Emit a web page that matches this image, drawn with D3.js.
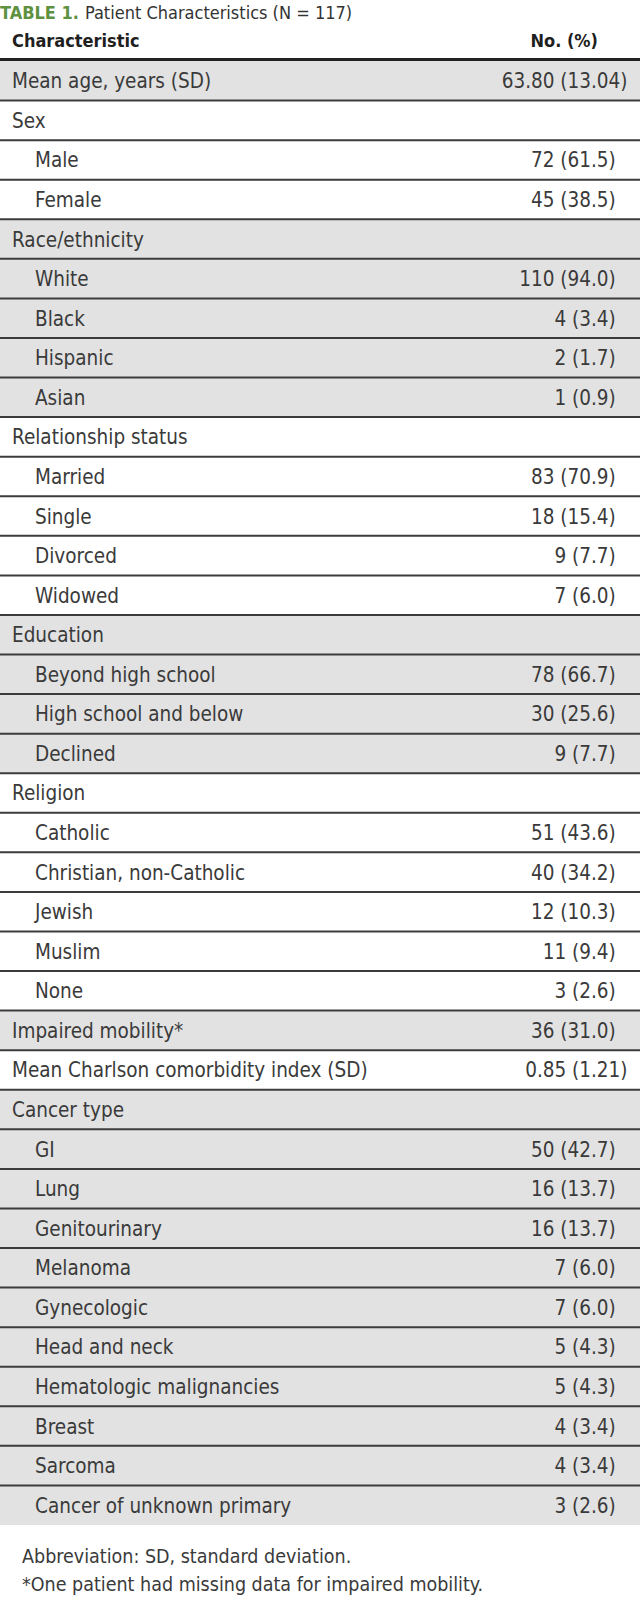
<!DOCTYPE html>
<html>
<head>
<meta charset="utf-8">
<script src="https://cdn.jsdelivr.net/npm/d3@7"></script>
<style>
  body { margin: 0; background: #fff; }
  svg text { font-family: "Liberation Sans Narrow", "DejaVu Sans Condensed", "Roboto Condensed", sans-serif; }
</style>
</head>
<body>
<svg id="chart" width="640" height="1600"></svg>
<script>
  // table rows: label, value, indent level (0 = group row, 1 = sub row)
  const labels = [
    "Mean age, years (SD)",
    "Sex", "Male", "Female",
    "Race/ethnicity", "White", "Black", "Hispanic", "Asian",
    "Relationship status", "Married", "Single", "Divorced", "Widowed",
    "Education", "Beyond high school", "High school and below", "Declined",
    "Religion", "Catholic", "Christian, non-Catholic", "Jewish", "Muslim", "None",
    "Impaired mobility*",
    "Mean Charlson comorbidity index (SD)",
    "Cancer type", "GI", "Lung", "Genitourinary", "Melanoma", "Gynecologic",
    "Head and neck", "Hematologic malignancies", "Breast", "Sarcoma",
    "Cancer of unknown primary"
  ];
  const values = [
    "63.80 (13.04)",
    "", "72 (61.5)", "45 (38.5)",
    "", "110 (94.0)", "4 (3.4)", "2 (1.7)", "1 (0.9)",
    "", "83 (70.9)", "18 (15.4)", "9 (7.7)", "7 (6.0)",
    "", "78 (66.7)", "30 (25.6)", "9 (7.7)",
    "", "51 (43.6)", "40 (34.2)", "12 (10.3)", "11 (9.4)", "3 (2.6)",
    "36 (31.0)",
    "0.85 (1.21)",
    "", "50 (42.7)", "16 (13.7)", "16 (13.7)", "7 (6.0)", "7 (6.0)",
    "5 (4.3)", "5 (4.3)", "4 (3.4)", "4 (3.4)",
    "3 (2.6)"
  ];
  const levels = [
    0,
    0, 1, 1,
    0, 1, 1, 1, 1,
    0, 1, 1, 1, 1,
    0, 1, 1, 1,
    0, 1, 1, 1, 1, 1,
    0,
    0,
    0, 1, 1, 1, 1, 1, 1, 1, 1, 1,
    1
  ];
  const columns = ["Characteristic", "No. (%)"];
  const title = ["TABLE 1.", "Patient Characteristics (N = 117)"];
  const notes = [
    "Abbreviation: SD, standard deviation.",
    "*One patient had missing data for impaired mobility."
  ];

  const svg = d3.select("#chart");
  const width = 640;

  // shading alternates with each top-level group
  let grp = -1;
  const rows = labels.map((label, i) => {
    if (levels[i] === 0) grp++;
    return { label: label, value: values[i], level: levels[i], shade: grp % 2 === 0 };
  });

  const y = d3.scaleBand()
    .domain(d3.range(rows.length))
    .range([61, 1525]);

  const x = d3.scaleOrdinal()
    .domain([0, 1])
    .range([12, 35]);

  const decimalX = 591;   // decimal point of the bracketed number
  const fs = "20.5px";

  // title
  const t = svg.append("text")
    .attr("x", 0)
    .attr("y", 19)
    .style("font-size", "18px");
  t.append("tspan")
    .attr("fill", "#5e9140")
    .style("font-weight", "bold")
    .text(title[0]);
  t.append("tspan")
    .attr("dx", 6)
    .attr("fill", "#333")
    .text(title[1]);

  // header
  svg.append("text")
    .attr("x", 12)
    .attr("y", 47)
    .attr("fill", "#1f1f1f")
    .style("font-size", "18px")
    .style("font-weight", "bold")
    .text(columns[0]);
  svg.append("text")
    .attr("x", 598)
    .attr("y", 47)
    .attr("text-anchor", "end")
    .attr("fill", "#1f1f1f")
    .style("font-size", "18px")
    .style("font-weight", "bold")
    .text(columns[1]);

  const row = svg.selectAll("g.row")
    .data(rows)
    .enter()
    .append("g")
      .attr("class", "row")
      .attr("transform", (d, i) => "translate(0," + y(i) + ")");

  row.append("rect")
    .attr("width", width)
    .attr("height", y.bandwidth())
    .attr("fill", d => d.shade ? "#e2e2e2" : "#fff");

  row.append("text")
    .attr("x", d => x(d.level))
    .attr("y", y.bandwidth() / 2 + 7.5)
    .attr("fill", "#3a3a3a")
    .style("font-size", fs)
    .text(d => d.label);

  // values, aligned on the decimal point
  const vals = row.filter(d => d.value !== "");
  vals.append("text")
    .attr("x", decimalX)
    .attr("y", y.bandwidth() / 2 + 7.5)
    .attr("text-anchor", "end")
    .attr("fill", "#3a3a3a")
    .style("font-size", fs)
    .text(d => d.value.slice(0, d.value.lastIndexOf(".")));
  vals.append("text")
    .attr("x", decimalX)
    .attr("y", y.bandwidth() / 2 + 7.5)
    .attr("fill", "#3a3a3a")
    .style("font-size", fs)
    .text(d => d.value.slice(d.value.lastIndexOf(".")));

  // row rules (none under the last row)
  svg.selectAll("line.rule")
    .data(d3.range(1, rows.length))
    .enter()
    .append("line")
      .attr("class", "rule")
      .attr("x1", 0)
      .attr("x2", width)
      .attr("y1", i => y(i))
      .attr("y2", i => y(i))
      .attr("stroke", "#3c3c3c")
      .attr("stroke-width", 2);

  // heavy rule under the header
  svg.append("line")
    .attr("x1", 0)
    .attr("x2", width)
    .attr("y1", 59.5)
    .attr("y2", 59.5)
    .attr("stroke", "#222")
    .attr("stroke-width", 3);

  // footnotes
  svg.selectAll("text.note")
    .data(notes)
    .enter()
    .append("text")
      .attr("class", "note")
      .attr("x", 22)
      .attr("y", (d, i) => 1563 + i * 28)
      .attr("fill", "#3a3a3a")
      .style("font-size", "19.5px")
      .text(d => d);
</script>
</body>
</html>
